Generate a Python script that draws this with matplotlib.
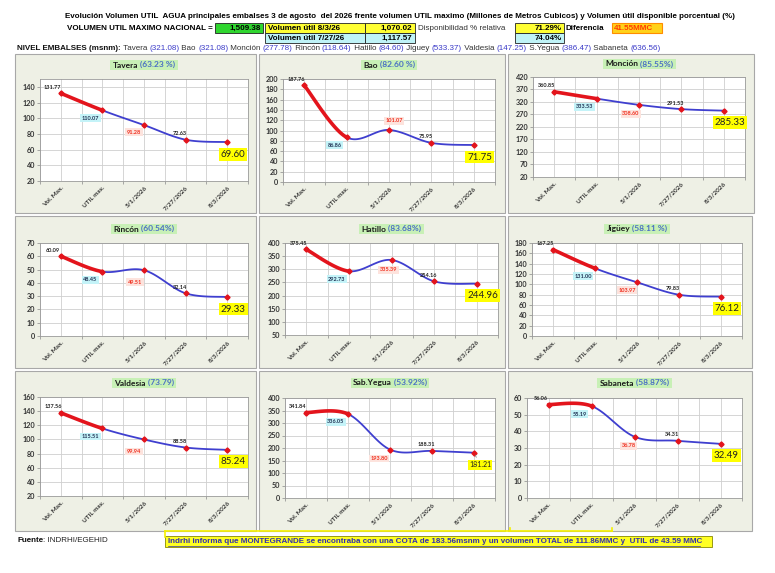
import numpy as np
import matplotlib
matplotlib.use("Agg")
import matplotlib.pyplot as plt
from matplotlib.patches import Rectangle

W, H = 775, 573

# data
categories = ["Vol. Max.", "UTIL max.", "5/1/2026", "7/27/2026", "8/3/2026"]
names = ["Tavera", "Bao", "Monción", "Rincón", "Hatillo", "Jigüey", "Valdesia", "Sab.Yegua", "Sabaneta"]
percents = ["(63.23 %)", "(82.60 %)", "(85.55%)", "(60.54%)", "(83.68%)", "(58.11 %)", "(73.79)", "(53.92%)", "(58.87%)"]

tavera = [131.77, 110.07, 91.28, 72.63, 69.60]
bao = [187.76, 86.86, 101.07, 75.95, 71.75]
moncion = [360.85, 333.53, 308.60, 291.53, 285.33]
rincon = [60.09, 48.45, 49.51, 32.14, 29.33]
hatillo = [375.45, 292.73, 335.39, 254.16, 244.96]
jiguey = [167.25, 131.00, 103.97, 79.83, 76.12]
valdesia = [137.56, 115.51, 99.94, 88.58, 85.24]
sabyegua = [341.84, 336.05, 193.80, 188.31, 181.21]
sabaneta = [56.06, 55.19, 36.78, 34.31, 32.49]
series = [tavera, bao, moncion, rincon, hatillo, jiguey, valdesia, sabyegua, sabaneta]

y_min = [20, 0, 20, 0, 50, 0, 20, 0, 0]
y_max = [150, 200, 420, 70, 400, 180, 160, 400, 60]
y_step = [20, 20, 50, 10, 50, 20, 20, 50, 10]

nivel_names = ["Tavera", "Bao", "Monción", "Rincón", "Hatillo", "Jiguey", "Valdesia", "S.Yegua", "Sabaneta"]
nivel_values = ["321.08", "321.08", "277.78", "118.64", "84.60", "533.37", "147.25", "386.47", "636.56"]

vol_max_nacional = "1,509.38"
vol_util_now = "1,070.02"
vol_util_prev = "1,117.57"
disp_now = "71.29%"
disp_prev = "74.04%"
diferencia = "41.55MMC"

# layout (pixels)
panel_boxes = [(15, 54, 256, 213), (259, 54, 505, 213), (508, 54, 754, 213),
               (15, 216, 256, 368), (259, 216, 505, 368), (508, 216, 752, 368),
               (15, 371, 256, 531), (259, 371, 505, 531), (508, 371, 752, 531)]
plot_boxes = [(40, 79, 248, 181), (283, 79, 495, 182), (533, 77, 745, 177),
              (40, 243, 248, 336), (285, 243, 498, 335), (532, 243, 742, 336),
              (40, 397, 248, 496), (285, 398, 495, 498), (527, 398, 742, 498)]
title_y = [65, 65, 64, 229, 229, 229, 383, 383, 383]
lab2_off = [(-10, -7), (5, 9), (-8, -9), (-9, -12), (-3, -10), (-10, -8), (-10, -12), (-11, -9), (-6, -9)]
big_size = [7, 7, 7, 7, 7, 7, 7, 5, 7]

RED = "#e3141c"
BLUE = "#3f3fcf"
narrow = ["Liberation Sans Narrow", "Liberation Sans", "DejaVu Sans"]
pfont = ["Lato", "DejaVu Sans"]


def smooth_segments(xs, ys, n=40):
    pts = np.column_stack([xs, ys]).astype(float)
    P = np.vstack([pts[0], pts, pts[-1]])
    t = np.linspace(0, 1, n)[:, None]
    segs = []
    for i in range(len(pts) - 1):
        p0, p1, p2, p3 = P[i], P[i + 1], P[i + 2], P[i + 3]
        c1 = p1 + (p2 - p0) / 6
        c2 = p2 - (p3 - p1) / 6
        segs.append((1 - t) ** 3 * p1 + 3 * (1 - t) ** 2 * t * c1 + 3 * (1 - t) * t ** 2 * c2 + t ** 3 * p2)
    return segs


def pt(dx, dy):
    return (dx * 0.72, dy * 0.72)


fig = plt.figure(figsize=(W / 100, H / 100), dpi=100)
bg = fig.add_axes([0, 0, 1, 1])
bg.set_xlim(0, W)
bg.set_ylim(H, 0)
bg.axis("off")


def box(x0, y0, x1, y1, fc, ec="#222222", lw=0.6):
    bg.add_patch(Rectangle((x0, y0), x1 - x0, y1 - y0, fc=fc, ec=ec, lw=lw))


def chain(x, y, parts, size):
    prev = None
    for s, c, w in parts:
        if prev is None:
            prev = bg.text(x, y, s, color=c, weight=w, fontsize=size, family=narrow, ha="left", va="center")
        else:
            prev = bg.annotate(s, xy=(1, 0), xycoords=prev, color=c, weight=w, fontsize=size,
                               family=narrow, ha="left", va="bottom")
    return prev


# header
hs = 5.8
bg.text(400, 17, "Evolución Volumen UTIL  AGUA principales embalses 3 de agosto  del 2026 frente volumen UTIL maximo "
        "(Millones de Metros Cubicos) y Volumen útil disponible porcentual (%)",
        ha="center", va="center", fontsize=5.75, weight="bold", family=narrow)
bg.text(67, 28, "VOLUMEN UTIL MAXIMO NACIONAL =", ha="left", va="center", fontsize=hs, weight="bold", family=narrow)
box(215, 23, 263, 33, "#2fd62f")
bg.text(261, 28, vol_max_nacional, ha="right", va="center", fontsize=hs, weight="bold", family=narrow)
box(265, 23, 365, 33, "#ffff33")
bg.text(268, 28, "Volumen útil 8/3/26", ha="left", va="center", fontsize=hs, weight="bold", family=narrow)
box(365, 23, 415, 33, "#ffff33")
bg.text(412, 28, vol_util_now, ha="right", va="center", fontsize=hs, weight="bold", family=narrow)
bg.text(418, 28, "Disponibilidad % relativa", ha="left", va="center", fontsize=hs, color="#333333", family=narrow)
box(515, 23, 564, 33, "#ffff33")
bg.text(562, 28, disp_now, ha="right", va="center", fontsize=hs, weight="bold", family=narrow)
bg.text(566, 28, "Diferencia", ha="left", va="center", fontsize=hs, weight="bold", family=narrow)
box(612, 23, 662, 33, "#ffd21a", ec="#ff8c00", lw=0.8)
bg.text(614, 28, diferencia, ha="left", va="center", fontsize=hs, weight="bold", color="#ff3a00", family=narrow)
box(265, 33, 365, 43, "#bff3f7")
bg.text(268, 38, "Volumen útil 7/27/26", ha="left", va="center", fontsize=hs, weight="bold", family=narrow)
box(365, 33, 415, 43, "#bff3f7")
bg.text(412, 38, vol_util_prev, ha="right", va="center", fontsize=hs, weight="bold", family=narrow)
box(515, 33, 564, 43, "#bff3f7")
bg.text(562, 38, disp_prev, ha="right", va="center", fontsize=hs, weight="bold", family=narrow)

parts = [("NIVEL EMBALSES (msnm):", "#111111", "bold")]
for nm, v in zip(nivel_names, nivel_values):
    parts.append((" " + nm + " ", "#333333", "normal"))
    parts.append(("(" + v + ")", "#3a3ac8", "normal"))
chain(17, 49, parts, 5.8)

# panels
titles = []
for i in range(9):
    x0, y0, x1, y1 = panel_boxes[i]
    box(x0, y0, x1, y1, "#eef0e5", ec="#a8a8a8", lw=0.8)
    px0, py0, px1, py1 = plot_boxes[i]
    ax = fig.add_axes([px0 / W, 1 - py1 / H, (px1 - px0) / W, (py1 - py0) / H])
    ax.set_facecolor("white")
    vals = series[i]
    xs = np.arange(len(categories))

    segs = smooth_segments(xs, vals)
    ax.plot(segs[0][:, 0], segs[0][:, 1], color=RED, lw=2.6, solid_capstyle="round", zorder=3)
    rest = np.vstack(segs[1:])
    ax.plot(rest[:, 0], rest[:, 1], color=BLUE, lw=1.3, zorder=3)
    ax.plot(xs, vals, "D", color=RED, ms=2.6, zorder=4)

    ax.set_xlim(-0.5, len(categories) - 0.5)
    ax.set_ylim(y_min[i], y_max[i])
    ax.set_yticks(np.arange(y_min[i], y_max[i] + 0.1, y_step[i]))
    ax.set_xticks(xs)
    ax.set_xticks(np.arange(-0.5, len(categories), 1.0), minor=True)
    ax.set_xticklabels(categories, rotation=45, ha="right", rotation_mode="anchor",
                       fontsize=4.6, weight="bold", family=pfont, color="#333333")
    for lab in ax.get_yticklabels():
        lab.set_fontsize(5.2)
        lab.set_weight("bold")
        lab.set_family(pfont)
        lab.set_color("#333333")
    ax.grid(True, which="both", axis="x", color="#cfcfcf", lw=0.6)
    ax.grid(True, which="major", axis="y", color="#cfcfcf", lw=0.6)
    ax.set_axisbelow(True)
    ax.tick_params(axis="both", which="both", length=2, width=0.5, color="#888888", pad=1.5)
    ax.tick_params(axis="x", which="major", length=0, pad=3)
    for s in ax.spines.values():
        s.set_color("#9a9a9a")
        s.set_linewidth(0.6)

    fmt = ["%.2f" % v for v in vals]
    ax.annotate(fmt[0], (0, vals[0]), xytext=pt(-8, 6), textcoords="offset points", ha="center", va="center",
                fontsize=4, color="#222222", family=pfont, weight="bold", zorder=5)
    ax.annotate(fmt[1], (1, vals[1]), xytext=pt(-12, -8), textcoords="offset points", ha="center", va="center",
                fontsize=4, color="#223355", family=pfont, weight="bold", zorder=5,
                bbox=dict(boxstyle="square,pad=0.25", fc="#c4f3f8", ec="none"))
    ax.annotate(fmt[2], (2, vals[2]), xytext=pt(*lab2_off[i]), textcoords="offset points", ha="center", va="center",
                fontsize=4, color="#f03020", family=pfont, weight="bold", zorder=5,
                bbox=dict(boxstyle="square,pad=0.25", fc="#fde3dd", ec="none"))
    ax.annotate(fmt[3], (3, vals[3]), xytext=pt(-6, 6), textcoords="offset points", ha="center", va="center",
                fontsize=4, color="#222222", family=pfont, weight="bold", zorder=5)
    arrow = dict(arrowstyle="-", color="#888888", lw=0.6) if big_size[i] < 6 else None
    ax.annotate(fmt[4], (4, vals[4]), xytext=pt(6, -12), textcoords="offset points", ha="center", va="center",
                fontsize=big_size[i], color="#222222", family=pfont, zorder=5, arrowprops=arrow,
                bbox=dict(boxstyle="square,pad=0.2", fc="#ffff00", ec="none"))

    cx = (px0 + px1) / 2
    name_t = bg.text(cx, title_y[i], names[i], ha="left", va="center", fontsize=6,
                     weight="bold", color="#1a1a1a", family=pfont)
    pct_t = bg.annotate(" " + percents[i], xy=(1, 0), xycoords=name_t, ha="left", va="bottom", fontsize=6,
                        weight="bold", color="#4a6fc4", family=pfont)
    titles.append((cx, title_y[i], name_t, pct_t))

# center the panel titles and put the green box behind them
fig.canvas.draw()
rend = fig.canvas.get_renderer()
for cx, ty, name_t, pct_t in titles:
    e1 = name_t.get_window_extent(rend)
    e2 = pct_t.get_window_extent(rend)
    w = e1.width + e2.width
    h = e1.height
    name_t.set_x(cx - w / 2)
    bg.add_patch(Rectangle((cx - w / 2 - 2.5, ty - h / 2 - 1.5), w + 5, h + 3, fc="#c8f0b6", ec="none"))

# footer
bg.plot([165, 165], [531, 537], color="#f5f000", lw=1.2)
bg.plot([165, 612], [531, 531], color="#f5f000", lw=1.2)
bg.plot([510, 510], [528, 531], color="#f5f000", lw=1.2)
bg.plot([612, 612], [528, 531], color="#f5f000", lw=1.2)
chain(17, 541, [("Fuente", "#111111", "bold"), (": INDRHI/EGEHID", "#222222", "normal")], 5.8)
box(165, 536, 712, 547, "#ffff22", ec="#888800", lw=0.6)
bg.text(168, 541.5, "Indrhi informa que MONTEGRANDE se encontraba con una COTA de 183.56msnm y un volumen TOTAL de "
        "111.86MMC y  UTIL de 43.59 MMC", ha="left", va="center", fontsize=5.8, weight="bold",
        color="#3030b0", family=narrow)
bg.plot([168, 700], [545.5, 545.5], color="#3030b0", lw=0.5)

fig.savefig("out.png", dpi=100)
